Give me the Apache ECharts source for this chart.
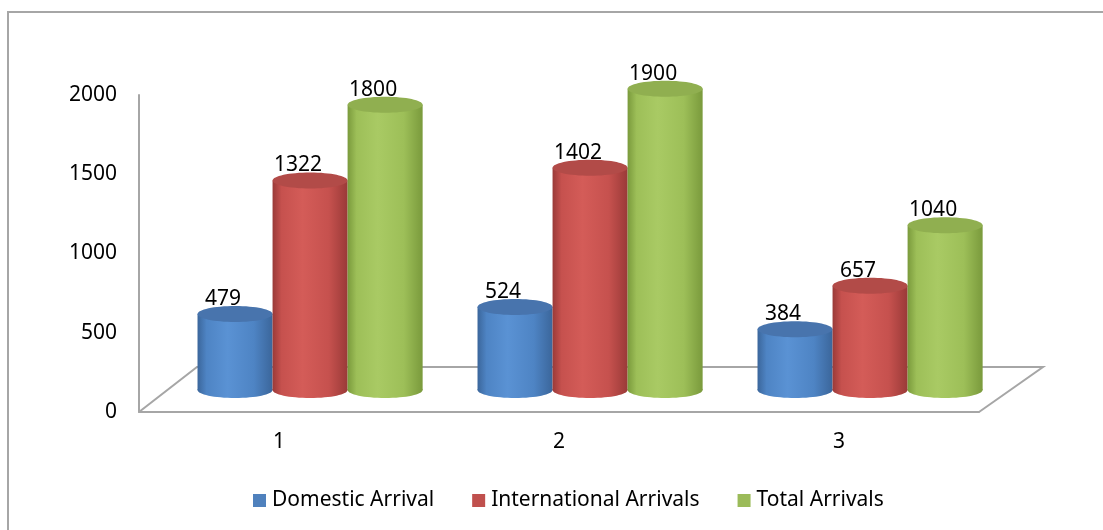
<!DOCTYPE html>
<html>
<head>
<meta charset="utf-8">
<script src="https://cdn.jsdelivr.net/npm/echarts@6/dist/echarts.min.js"></script>
<style>
html,body{margin:0;padding:0;background:#fff;}
#chart{width:1103px;height:530px;}
</style>
</head>
<body>
<div id="chart"></div>
<script>
const categories = ['1', '2', '3'];
const seriesNames = ['Domestic Arrival', 'International Arrivals', 'Total Arrivals'];
const domestic = [479, 524, 384];
const international = [1322, 1402, 657];
const total = [1800, 1900, 1040];
const yTicks = [0, 500, 1000, 1500, 2000];

const palette = [
  {base: '#4f81bd', edge: '#3b669b', light: '#5a92d4', mid: '#4e84c4', top: '#4874ad'},
  {base: '#c0504d', edge: '#9a3a38', light: '#d45c58', mid: '#c6514e', top: '#b24b48'},
  {base: '#9bbb59', edge: '#7a9a3c', light: '#a9ca64', mid: '#9dbf58', top: '#90af50'}
];

const FONT = 'Noto Sans';
const FS = 21;
const chart = echarts.init(document.getElementById('chart'), null, {renderer: 'canvas'});

function cylRender(si) {
  const c = palette[si];
  return function (params, api) {
    const idx = api.value(0), val = api.value(1);
    const band = api.size([1, 0])[0];
    const w = band * 0.268;
    const dx = band * 0.111, dy = -22;
    const base = api.coord([idx, 0]);
    const top = api.coord([idx, val]);
    const cx = base[0] + dx + (si - 1) * w;
    const by = base[1] + dy, ty = top[1] + dy;
    const rx = w / 2, ry = 8;
    const grad = new echarts.graphic.LinearGradient(0, 0, 1, 0, [
      {offset: 0, color: c.edge},
      {offset: 0.12, color: c.mid},
      {offset: 0.4, color: c.light},
      {offset: 0.75, color: c.mid},
      {offset: 1, color: c.edge}
    ]);
    return {
      type: 'group',
      children: [
        {type: 'rect', shape: {x: cx - rx, y: ty, width: w, height: by - ty}, style: {fill: grad}},
        {type: 'ellipse', shape: {cx: cx, cy: by, rx: rx, ry: ry}, style: {fill: grad}},
        {type: 'ellipse', shape: {cx: cx, cy: ty, rx: rx, ry: ry}, style: {fill: c.top}},
        {type: 'text', style: {text: String(val), x: cx - 12, y: ty - ry - 7, align: 'center', verticalAlign: 'middle',
          fontSize: FS, fontFamily: FONT, fill: '#000'}}
      ]
    };
  };
}

function floorRender(params, api) {
  const band = api.size([1, 0])[0];
  const p0 = api.coord([0, 0]);
  const p2 = api.coord([categories.length - 1, 0]);
  const fl = [p0[0] - band / 2, p0[1]];
  const fr = [p2[0] + band / 2, p2[1]];
  return {
    type: 'polyline',
    shape: {points: [fl, [fl[0] + 58, fl[1] - 45], [fr[0] + 64, fr[1] - 45], fr]},
    style: {stroke: '#a6a6a6', lineWidth: 2, fill: null}
  };
}

const valueSets = [domestic, international, total];
const series = [{
  type: 'custom', name: 'floor', renderItem: floorRender, data: [[0, 0]], z: 1, silent: true
}];
valueSets.forEach((vals, si) => {
  series.push({
    type: 'custom',
    name: seriesNames[si],
    renderItem: cylRender(si),
    itemStyle: {color: palette[si].base},
    data: vals.map((v, i) => [i, v]),
    z: 2 + si
  });
});

chart.setOption({
  animation: false,
  backgroundColor: '#fff',
  graphic: [{
    type: 'rect', shape: {x: 8, y: 12, width: 1200, height: 600},
    style: {stroke: '#a6a6a6', lineWidth: 2, fill: null}, z: 0
  }],
  grid: {left: 139, right: 124, top: 95, bottom: 118},
  legend: {
    data: seriesNames,
    icon: 'rect',
    itemWidth: 13, itemHeight: 13, itemGap: 38,
    left: 248, top: 485,
    textStyle: {fontSize: FS, fontFamily: FONT, color: '#000', padding: [0, 0, 0, 1]}
  },
  xAxis: {
    type: 'category', data: categories,
    axisLine: {show: true, lineStyle: {color: '#a6a6a6', width: 2}},
    axisTick: {show: false},
    axisLabel: {margin: 20, fontSize: FS, fontFamily: FONT, color: '#000'}
  },
  yAxis: {
    type: 'value', min: yTicks[0], max: yTicks[yTicks.length - 1], interval: 500,
    axisLine: {show: true, lineStyle: {color: '#a6a6a6', width: 2}},
    axisTick: {show: false},
    splitLine: {show: false},
    axisLabel: {margin: 22, fontSize: FS, fontFamily: FONT, color: '#000', formatter: v => String(v)}
  },
  series: series
});
</script>
</body>
</html>
